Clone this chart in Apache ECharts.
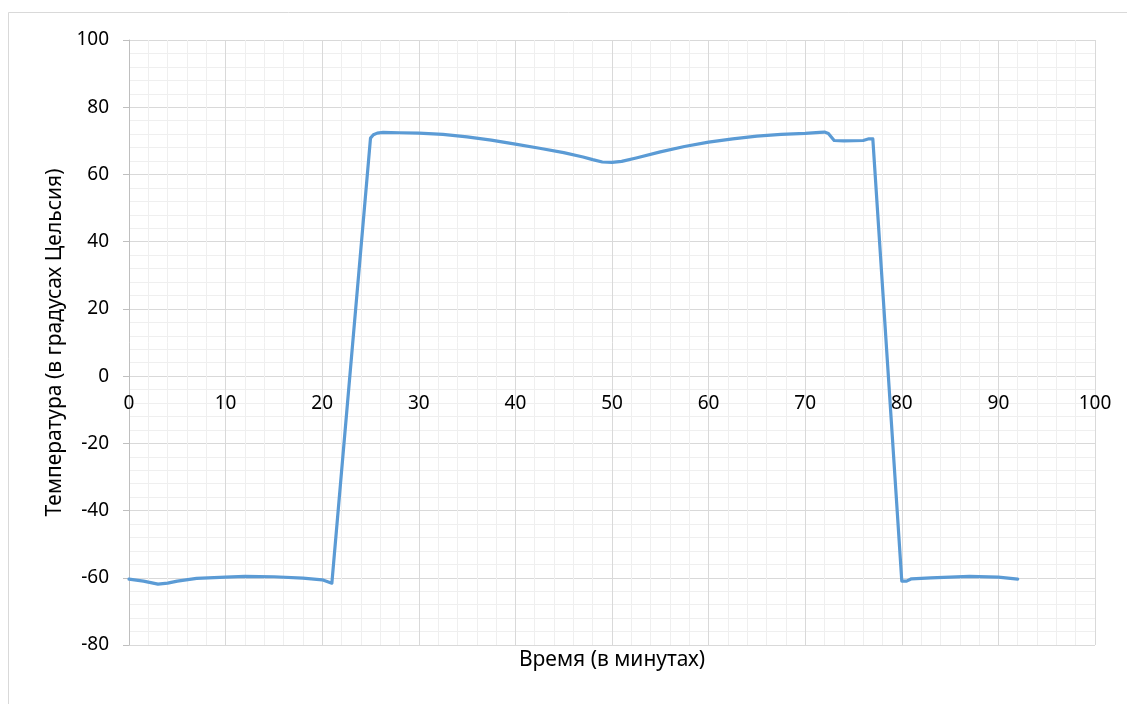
<!DOCTYPE html>
<html>
<head>
<meta charset="utf-8">
<script src="https://cdn.jsdelivr.net/npm/echarts@6/dist/echarts.min.js"></script>
<style>html,body{margin:0;padding:0;background:#fff;}#c{width:1127px;height:704px;}</style>
</head>
<body>
<div id="c"></div>
<script>
const xAxisTitle = 'Время (в минутах)';
const yAxisTitle = 'Температура (в градусах Цельсия)';
const times = [0, 1.5, 3, 4, 5, 7, 10, 12, 15, 18, 20, 21, 25, 25.3, 25.7, 26.3, 28, 30, 32.5, 35, 37.5, 40, 42.5, 45, 47, 48, 49, 50, 51, 52.5, 55, 57.5, 60, 62.5, 65, 67.5, 70, 71.5, 72, 72.4, 73, 74, 76, 76.6, 77, 80, 80.5, 81, 83, 85, 87, 90, 92];
const temps = [-60.4, -61, -61.9, -61.6, -61, -60.2, -59.8, -59.6, -59.7, -60.1, -60.6, -61.6, 70.8, 71.8, 72.3, 72.5, 72.4, 72.3, 71.9, 71.2, 70.2, 69, 67.8, 66.5, 65.2, 64.4, 63.7, 63.6, 63.9, 64.9, 66.7, 68.3, 69.6, 70.6, 71.4, 71.9, 72.2, 72.5, 72.6, 72.2, 70.1, 70.0, 70.1, 70.6, 70.6, -61, -61, -60.3, -60.0, -59.8, -59.6, -59.8, -60.4];
const xMin = 0, xMax = 100, xStep = 10;
const yMin = -80, yMax = 100, yStep = 20;

const chart = echarts.init(document.getElementById('c'));
const font = '"Noto Sans", "Liberation Sans", sans-serif';
chart.setOption({
  animation: false,
  backgroundColor: '#fff',
  grid: {left: 129, right: 32, top: 40, bottom: 59, containLabel: false},
  graphic: [
    {type: 'rect', shape: {x: 8.5, y: 12.5, width: 1140, height: 720}, style: {fill: 'none', stroke: '#d9d9d9', lineWidth: 1}, z: -10},
    {type: 'text', x: 612, y: 650, style: {text: xAxisTitle, font: '21px ' + font, fill: '#000', align: 'center', verticalAlign: 'top'}}
  ],
  xAxis: {
    type: 'value', min: xMin, max: xMax, interval: xStep,
    axisLine: {show: false},
    axisTick: {show: false},
    axisLabel: {color: '#000', fontSize: 19, fontFamily: font, margin: -251},
    splitLine: {show: true, lineStyle: {color: '#d9d9d9', width: 1}},
    minorTick: {show: true, splitNumber: 5, length: 0},
    minorSplitLine: {show: true, lineStyle: {color: '#efefef', width: 1}}
  },
  yAxis: {
    type: 'value', min: yMin, max: yMax, interval: yStep,
    name: yAxisTitle, nameLocation: 'middle', nameGap: 60,
    nameTextStyle: {color: '#000', fontSize: 21, fontFamily: font},
    axisLine: {show: true, onZero: false, lineStyle: {color: '#bfbfbf', width: 1}},
    axisTick: {show: true, length: 6, lineStyle: {color: '#bfbfbf'}},
    axisLabel: {color: '#000', fontSize: 19, fontFamily: font, margin: 20},
    splitLine: {show: true, lineStyle: {color: '#d9d9d9', width: 1}},
    minorTick: {show: true, splitNumber: 5, length: 0},
    minorSplitLine: {show: true, lineStyle: {color: '#efefef', width: 1}}
  },
  series: [{
    type: 'line',
    data: times.map((t, i) => [t, temps[i]]),
    smooth: false,
    showSymbol: false,
    lineStyle: {color: '#5b9bd5', width: 3.2, join: 'round', cap: 'round'},
    itemStyle: {color: '#5b9bd5'}
  }]
});
</script>
</body>
</html>
